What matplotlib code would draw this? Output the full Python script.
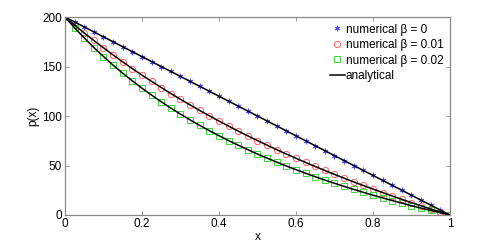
import numpy as np
import matplotlib.pyplot as plt

plt.rcParams['font.family'] = ['Liberation Sans', 'DejaVu Sans']

# x grid of the numerical solution (41 nodes)
x = np.linspace(0, 1, 41)

# values
p_beta0 = [200, 195, 190, 185, 180, 175, 170, 165, 160, 155, 150, 145, 140, 135,
           130, 125, 120, 115, 110, 105, 100, 95, 90, 85, 80, 75, 70, 65, 60, 55,
           50, 45, 40, 35, 30, 25, 20, 15, 10, 5, 0]
p_beta001 = [200, 191.8, 183.9, 176.3, 168.9, 161.7, 154.7, 147.9, 141.3, 135.0,
             128.8, 122.7, 116.9, 111.2, 105.6, 100.2, 94.9, 89.8, 84.8, 79.9,
             75.2, 70.6, 66.0, 61.6, 57.3, 53.1, 49.0, 45.0, 41.0, 37.2, 33.4,
             29.8, 26.2, 22.7, 19.2, 15.8, 12.5, 9.3, 6.1, 3.0, 0]
p_beta002 = [200, 189.1, 178.9, 169.2, 160.1, 151.4, 143.2, 135.5, 128.1, 121.1,
             114.4, 108.0, 101.9, 96.1, 90.5, 85.2, 80.1, 75.2, 70.5, 66.0, 61.6,
             57.5, 53.4, 49.5, 45.8, 42.2, 38.7, 35.3, 32.1, 28.9, 25.9, 22.9,
             20.0, 17.3, 14.6, 12.0, 9.4, 7.0, 4.6, 2.3, 0]

labels = ['numerical \u03b2 = 0', 'numerical \u03b2 = 0.01', 'numerical \u03b2 = 0.02', 'analytical']

fig = plt.figure(figsize=(4.98, 2.42), dpi=100)
ax = fig.add_axes([0.1305, 0.1116, 0.773, 0.818])

h1, = ax.plot(x, p_beta0, marker=(6, 2, 0), color='#5050ff', ms=4, mew=0.7, ls='none')
h2, = ax.plot(x, p_beta001, 'o', mfc='none', mec='#ff5c5c', ms=4.5, mew=0.7, ls='none')
h3, = ax.plot(x, p_beta002, 's', mfc='none', mec='#3ad63a', ms=3.8, mew=0.7, ls='none')
for p in (p_beta0, p_beta001, p_beta002):
    h4, = ax.plot(x, p, color='black', lw=1.1)

ax.set_xlim(0, 1)
ax.set_ylim(0, 200)
ax.set_xticks([0, 0.2, 0.4, 0.6, 0.8, 1])
ax.set_xticklabels(['0', '0.2', '0.4', '0.6', '0.8', '1'])
ax.set_yticks([0, 50, 100, 150, 200])
ax.tick_params(direction='in', length=3, width=0.6, color='#888888',
               labelsize=8.5, top=True, right=True, pad=2)
for s in ax.spines.values():
    s.set_color('#888888')
    s.set_linewidth(0.9)
ax.set_xlabel('x', fontsize=8.5, labelpad=1)
ax.set_ylabel('p(x)', fontsize=8.5, labelpad=2)

ax.legend([h1, h2, h3, h4], labels, loc='upper right', frameon=False,
          fontsize=8.5, handlelength=1.2, handletextpad=0.1, labelspacing=0.3,
          borderaxespad=0.05, borderpad=0.5, numpoints=1)

fig.savefig('out.png', dpi=100)
